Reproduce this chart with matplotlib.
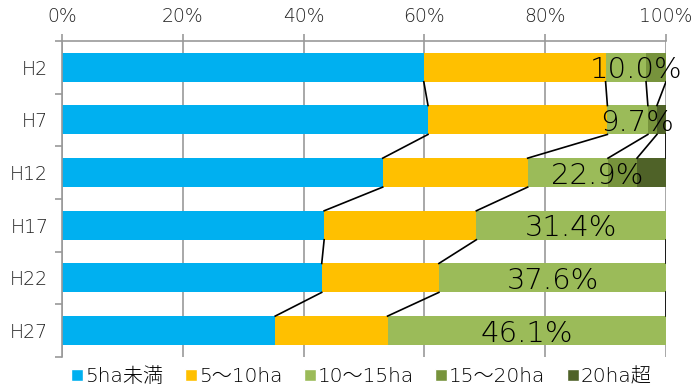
import numpy as np
import matplotlib
matplotlib.use("Agg")
import matplotlib.pyplot as plt
from matplotlib.lines import Line2D

plt.rcParams['font.family'] = ['DejaVu Sans', 'Noto Sans CJK JP']
plt.rcParams['font.weight'] = 'light'

categories = ["H2", "H7", "H12", "H17", "H22", "H27"]
s_lt5 = [59.9, 60.6, 53.1, 43.4, 43.0, 35.3]
s_5_10 = [30.1, 29.7, 24.0, 25.2, 19.4, 18.6]
s_10_15 = [6.7, 6.7, 13.3, np.nan, np.nan, np.nan]
s_15_20 = [3.3, 1.5, 4.8, np.nan, np.nan, np.nan]
s_gt20 = [np.nan, 1.5, 4.8, np.nan, np.nan, np.nan]
s_ge10 = [np.nan, np.nan, np.nan, 31.4, 37.6, 46.1]
labels_ge10 = ["10.0%", "9.7%", "22.9%", "31.4%", "37.6%", "46.1%"]

legend_names = ["5ha未満", "5～10ha", "10～15ha", "15～20ha", "20ha超"]
colors = ["#00B0F0", "#FFC000", "#9BBB59", "#77933C", "#4F6228"]
xticks = [0, 20, 40, 60, 80, 100]

fig = plt.figure(figsize=(6.97, 3.85), dpi=100)
ax = fig.add_axes([0.089, 0.073, 0.8665, 0.8205])

series = [s_lt5, s_5_10, s_10_15, s_15_20, s_gt20, s_ge10]
scolors = colors + [colors[2]]
y = np.arange(len(categories))
h = 0.55
left = np.zeros(len(categories))
cums = []
for vals, c in zip(series, scolors):
    v = np.array(vals, dtype=float)
    vz = np.nan_to_num(v)
    mask = ~np.isnan(v)
    ax.barh(y[mask], v[mask], left=left[mask], height=h, color=c, zorder=2)
    left = left + vz
    cums.append(np.where(mask, left, np.nan))

# series lines
for cum in cums:
    for i in range(len(categories) - 1):
        a, b = cum[i], cum[i + 1]
        if np.isnan(a) or np.isnan(b):
            continue
        ax.plot([a, b], [y[i] + h / 2, y[i + 1] - h / 2], color="black", lw=1.2, zorder=3)

# labels for >=10ha share
base = np.array(s_lt5) + np.array(s_5_10)
for i, lab in enumerate(labels_ge10):
    ax.text((base[i] + 100) / 2, y[i] + 0.06, lab, ha="center", va="center",
            fontsize=21, color="black", zorder=4)

ax.set_xlim(0, 100)
ax.set_ylim(len(categories) - 0.5, -0.5)
ax.xaxis.tick_top()
ax.set_xticks(xticks)
ax.set_xticklabels([f"{t}%" for t in xticks], fontsize=13.5, color="#222222")
ax.set_yticks(y)
ax.set_yticklabels(categories, fontsize=13.5, color="#222222")
ax.set_yticks(np.arange(len(categories) + 1) - 0.5, minor=True)
ax.tick_params(axis="y", which="major", length=0, pad=10)
ax.tick_params(axis="y", which="minor", length=5, color="#999999", width=1.2)
ax.tick_params(axis="x", which="major", length=5, color="#999999", width=1.2, pad=6)
ax.grid(axis="x", color="#999999", lw=1.2, zorder=0)
for s in ["right", "bottom"]:
    ax.spines[s].set_visible(False)
for s in ["left", "top"]:
    ax.spines[s].set_color("#999999")
    ax.spines[s].set_linewidth(1.2)

handles = [Line2D([0], [0], marker="s", color="w", markerfacecolor=c, markersize=8, lw=0)
           for c in colors]
fig.legend(handles, legend_names, loc="lower center", bbox_to_anchor=(0.518, -0.05), ncol=5,
           frameon=False, fontsize=14.5, handletextpad=0.05, columnspacing=1.0, handlelength=0.7)

fig.savefig("out.png", dpi=100)
